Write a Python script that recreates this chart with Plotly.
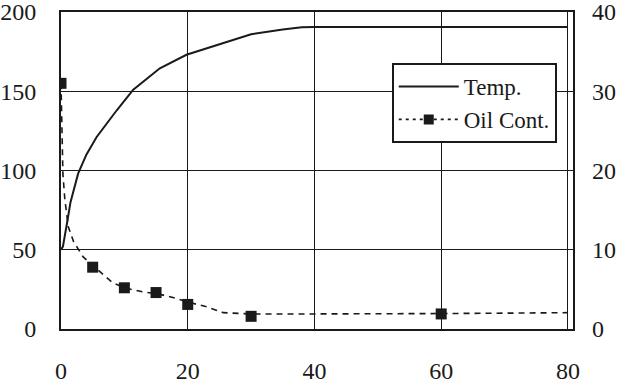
import plotly.graph_objects as go

# Temperature curve (left axis)
temp_x = [0, 0.3, 1, 1.5, 2.7, 4, 5.6, 8.8, 11.4, 15.6, 19.8, 24.6, 30, 35, 38, 40, 50, 60, 70, 80]
temp_y = [50, 52, 68, 80, 98, 110, 121, 138, 151, 164.5, 173, 179, 186, 189, 190.3, 190.5, 190.5, 190.5, 190.5, 190.5]

# Oil content fitted dashed curve (right axis)
oil_curve_x = [0, 0.3, 0.6, 1.15, 2, 3.5, 5.6, 8.2, 10.5, 12.9, 15.5, 18, 20.5, 23, 25.6, 30, 40, 50, 60, 70, 80]
oil_curve_y = [31, 19.6, 16.4, 12.9, 11, 9.1, 7.6, 5.8, 5.1, 4.7, 4.4, 3.9, 3.3, 2.8, 2.06, 1.9, 1.9, 1.9, 1.95, 2.0, 2.06]

# Oil content measured points (right axis)
oil_x = [0, 5, 10, 15, 20, 30, 60]
oil_y = [31, 7.8, 5.2, 4.6, 3.1, 1.6, 1.9]

x_ticks = [0, 20, 40, 60, 80]
left_ticks = [0, 50, 100, 150, 200]
right_ticks = [0, 10, 20, 30, 40]

FONT = "Liberation Serif"
INK = "#1a1a1a"

fig = go.Figure()
fig.add_trace(go.Scatter(x=temp_x, y=temp_y, mode="lines", name="Temp.",
                         line=dict(color=INK, width=2), yaxis="y"))
fig.add_trace(go.Scatter(x=oil_curve_x, y=oil_curve_y, mode="lines", showlegend=False,
                         line=dict(color=INK, width=1.6, dash="6px,5px"), yaxis="y2"))
fig.add_trace(go.Scatter(x=oil_x, y=oil_y, mode="markers", showlegend=False,
                         marker=dict(symbol="square", size=11, color=INK), yaxis="y2"))
# legend entry for oil content
fig.add_trace(go.Scatter(x=[None], y=[None], mode="lines+markers", name="Oil Cont.",
                         line=dict(color=INK, width=1.6, dash="3px,4px"),
                         marker=dict(symbol="square", size=10, color=INK), yaxis="y2"))

fig.update_layout(
    width=620, height=391,
    margin=dict(l=61, r=47, t=12, b=62),
    paper_bgcolor="white", plot_bgcolor="white",
    font=dict(family=FONT, size=24, color=INK),
    xaxis=dict(range=[0, 80.8], tickvals=x_ticks, showgrid=True, gridcolor=INK, gridwidth=1,
               showline=True, linecolor=INK, linewidth=2, mirror=True, ticks="",
               ticklabelstandoff=19, zeroline=False, automargin=False,
               ticklabeloverflow="allow"),
    yaxis=dict(range=[0, 200], tickvals=left_ticks, showgrid=True, gridcolor=INK, gridwidth=1,
               showline=True, linecolor=INK, linewidth=2, mirror=True, ticks="",
               ticklabelstandoff=18, zeroline=False, automargin=False,
               ticklabeloverflow="allow"),
    yaxis2=dict(range=[0, 40], tickvals=right_ticks, overlaying="y", side="right",
                showgrid=False, showline=False, ticks="", ticklabelstandoff=18,
                zeroline=False, automargin=False, ticklabeloverflow="allow"),
    legend=dict(x=0.646, y=0.839, xanchor="left", yanchor="top",
                bgcolor="white", bordercolor=INK, borderwidth=2,
                font=dict(family=FONT, size=23, color=INK), itemwidth=60,
                tracegroupgap=0),
    showlegend=True,
)

fig.write_html("out.html")
